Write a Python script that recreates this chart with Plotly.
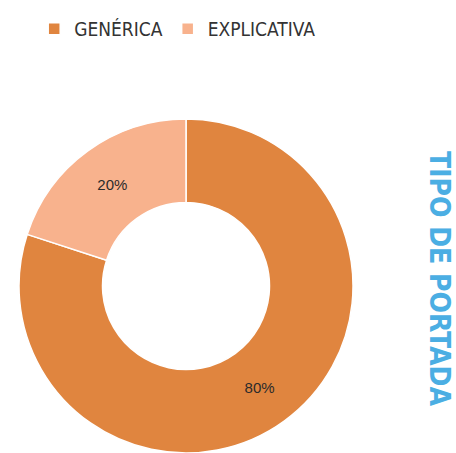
import plotly.graph_objects as go

# Cover types and their shares
categories = ["GENÉRICA", "EXPLICATIVA"]
shares = [80, 20]
colors = ["#E0853F", "#F8B28D"]

W, H = 456, 453

# Donut placement in pixels, converted to paper fractions
cx, cy, r = 186, 286, 167
dom_x = [(cx - r) / W, (cx + r) / W]
dom_y = [1 - (cy + r) / H, 1 - (cy - r) / H]

fig = go.Figure(
    go.Pie(
        labels=categories,
        values=shares,
        hole=0.5,
        sort=False,
        direction="clockwise",
        rotation=0,
        marker=dict(colors=colors, line=dict(color="#FFFFFF", width=1.5)),
        textinfo="percent",
        texttemplate="%{percent:.0%}",
        textposition="inside",
        insidetextorientation="horizontal",
        textfont=dict(family="Liberation Sans, Arial, sans-serif", size=15, color="#2B2B2B"),
        domain=dict(x=dom_x, y=[max(0, dom_y[0]), min(1, dom_y[1])]),
        hoverinfo="label+percent",
    )
)

fig.add_annotation(
    text="<b>TIPO DE PORTADA</b>",
    x=440 / W, y=1 - 279 / H,
    xref="paper", yref="paper",
    xanchor="center", yanchor="middle",
    textangle=90,
    showarrow=False,
    font=dict(family="DejaVu Sans Condensed, sans-serif", size=28, color="#4BAEE3"),
)

fig.update_layout(
    width=W, height=H,
    margin=dict(l=0, r=0, t=0, b=0),
    paper_bgcolor="#FFFFFF",
    plot_bgcolor="#FFFFFF",
    showlegend=True,
    legend=dict(
        orientation="h",
        x=0.075, y=1 - 10 / H,
        xanchor="left", yanchor="top",
        font=dict(family="DejaVu Sans Condensed, DejaVu Sans, sans-serif", size=19, color="#333333"),
        itemwidth=30,
        traceorder="normal",
    ),
)

fig.write_html("out.html")
